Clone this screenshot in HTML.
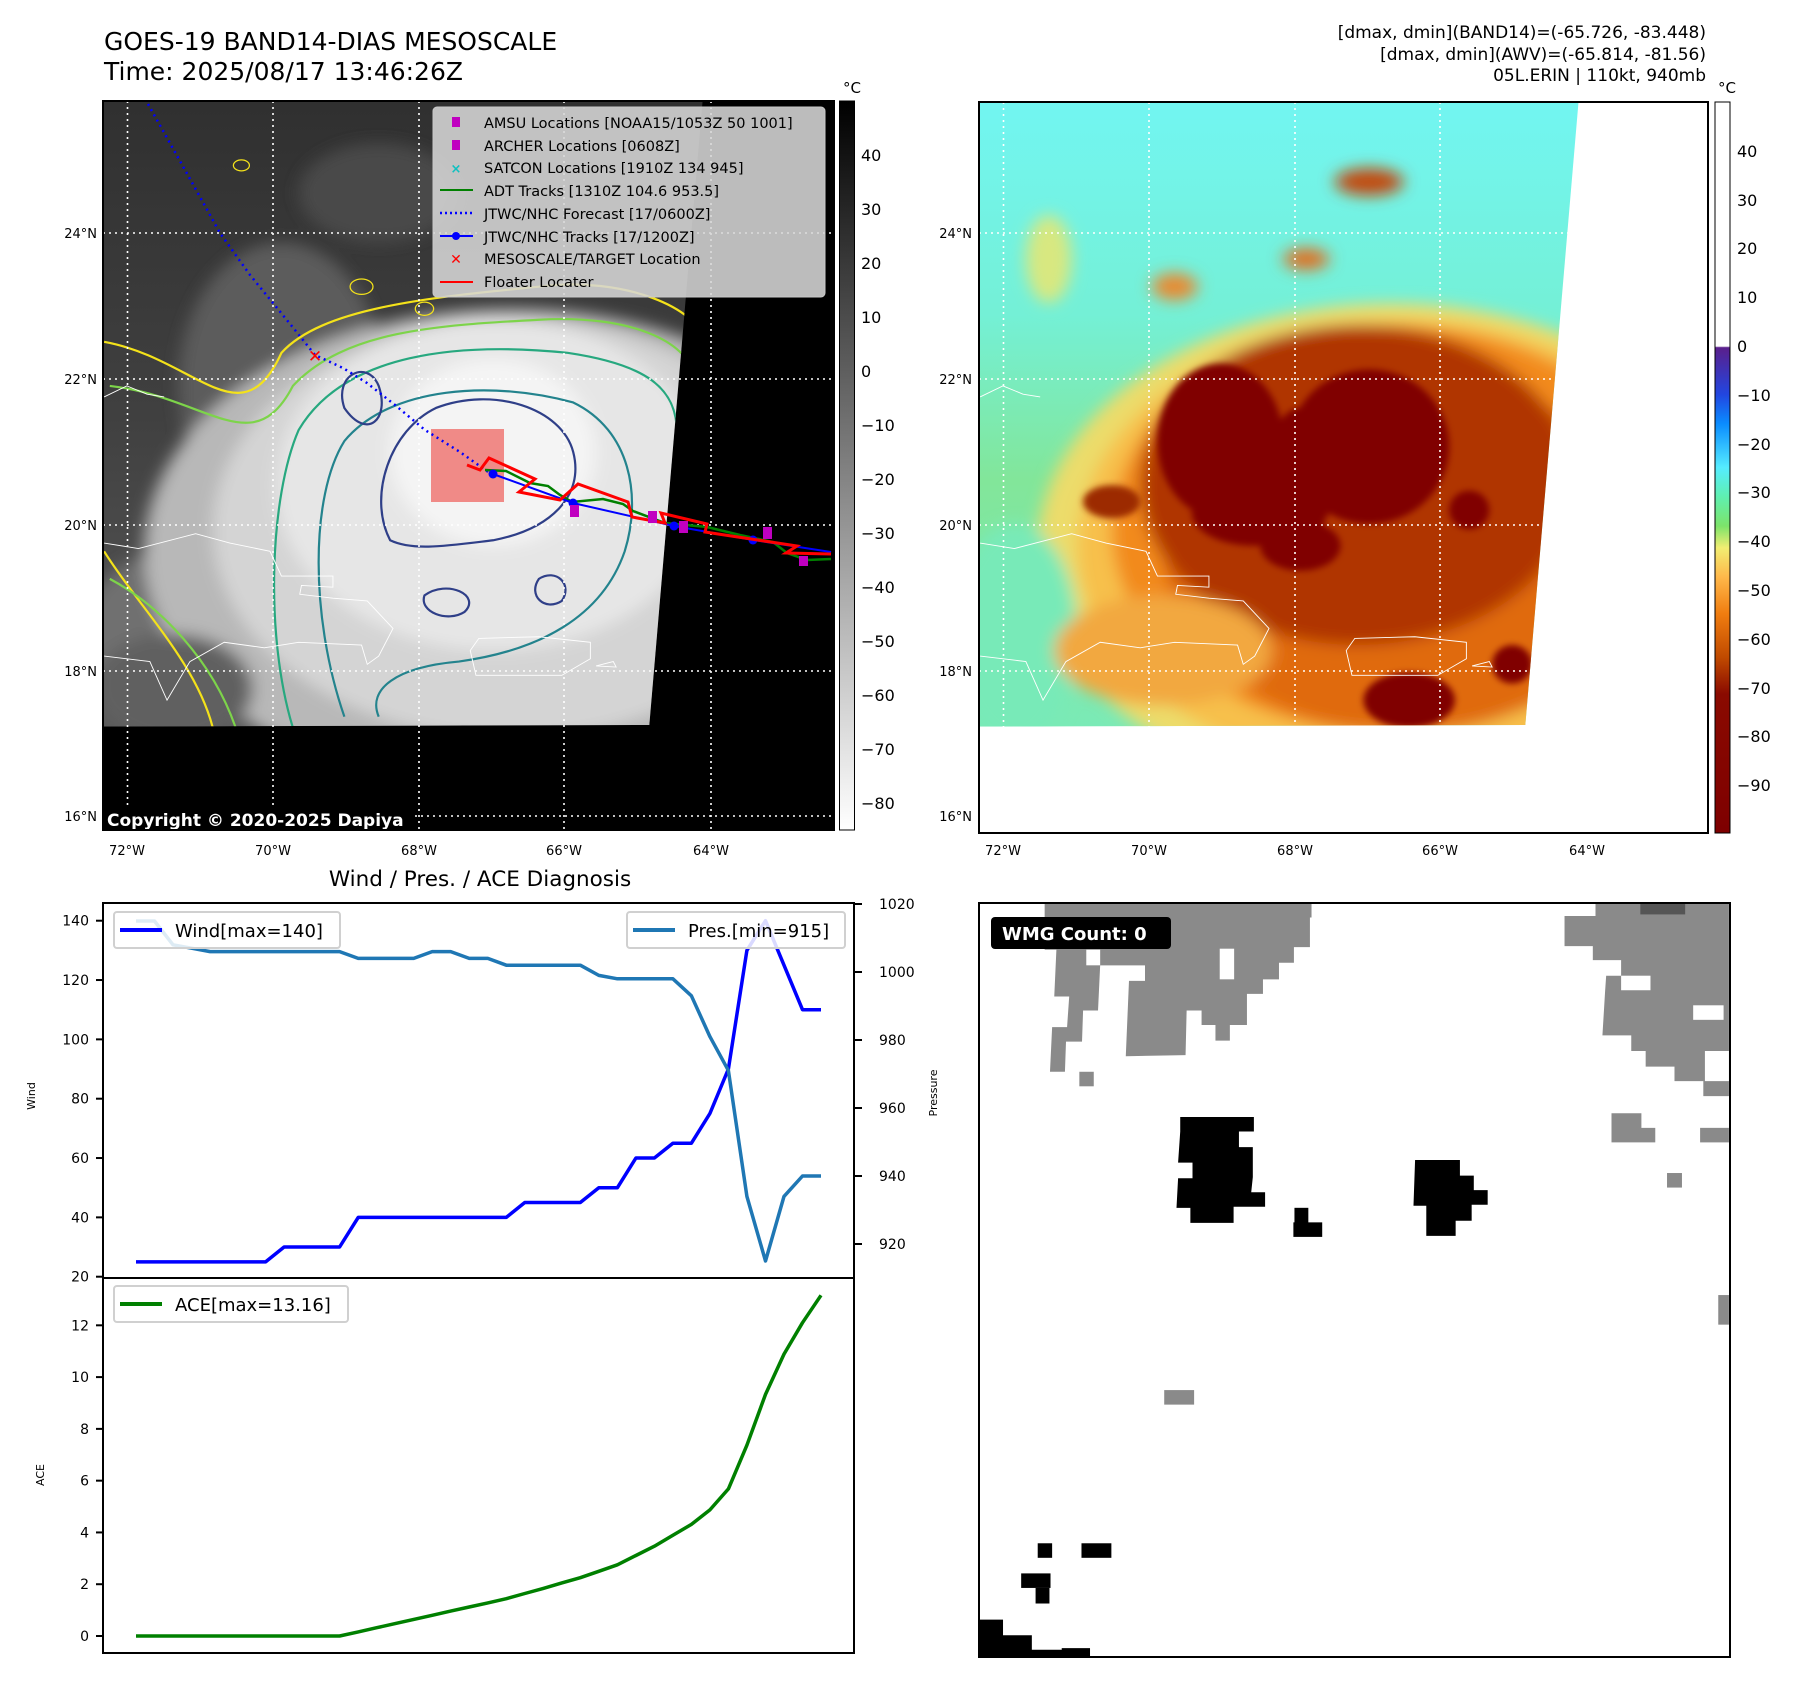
<!DOCTYPE html>
<html><head><meta charset="utf-8"><style>
html,body{margin:0;padding:0;background:#fff;}
svg{display:block;font-family:"DejaVu Sans","Liberation Sans",sans-serif;}
</style></head><body>
<svg id="fig" width="1797" height="1690" viewBox="0 0 1797 1690" xmlns="http://www.w3.org/2000/svg">
<defs>
  <filter id="blur8" x="-20%" y="-20%" width="140%" height="140%"><feGaussianBlur stdDeviation="14"/></filter>
  <filter id="blur4"><feGaussianBlur stdDeviation="6"/></filter>
  <clipPath id="clipL"><rect x="103" y="101" width="731" height="729"/></clipPath>
  <clipPath id="clipR"><rect x="979" y="102" width="729" height="731"/></clipPath>
  <clipPath id="dataZ"><polygon points="138,185 1186,185 1093,1315 138,1318"/></clipPath>
  <linearGradient id="cbGray" x1="0" y1="0" x2="0" y2="1">
    <stop offset="0" stop-color="#000"/><stop offset="1" stop-color="#fff"/>
  </linearGradient>
  <linearGradient id="cbColor" x1="0" y1="0" x2="0" y2="1">
    <stop offset="0" stop-color="#fff"/>
    <stop offset="0.334" stop-color="#fff"/>
    <stop offset="0.336" stop-color="#5a1f8c"/>
    <stop offset="0.40" stop-color="#2246e0"/>
    <stop offset="0.44" stop-color="#0a8cff"/>
    <stop offset="0.50" stop-color="#55ecff"/>
    <stop offset="0.54" stop-color="#5ff0b0"/>
    <stop offset="0.58" stop-color="#7ce46a"/>
    <stop offset="0.61" stop-color="#f2ee72"/>
    <stop offset="0.65" stop-color="#ffb84a"/>
    <stop offset="0.70" stop-color="#f07d10"/>
    <stop offset="0.76" stop-color="#c04a00"/>
    <stop offset="0.81" stop-color="#8a0a00"/>
    <stop offset="1" stop-color="#7e0000"/>
  </linearGradient>
  <linearGradient id="bgR" x1="0" y1="0" x2="0" y2="1">
    <stop offset="0" stop-color="#72f6f4"/><stop offset="0.35" stop-color="#74f0d6"/><stop offset="0.6" stop-color="#82e69a"/><stop offset="1" stop-color="#7aeab8"/>
  </linearGradient>
  <linearGradient id="bgL" x1="0" y1="0" x2="0" y2="1">
    <stop offset="0" stop-color="#2f2f2f"/><stop offset="0.5" stop-color="#404040"/><stop offset="1" stop-color="#5a5a5a"/>
  </linearGradient>
</defs>

<text x="104" y="50" font-size="25" fill="#000">GOES-19 BAND14-DIAS MESOSCALE</text>
<text x="104" y="80" font-size="25" fill="#000">Time: 2025/08/17 13:46:26Z</text>
<g font-size="17" text-anchor="end" fill="#000">
  <text x="1706" y="38">[dmax, dmin](BAND14)=(-65.726, -83.448)</text>
  <text x="1706" y="60">[dmax, dmin](AWV)=(-65.814, -81.56)</text>
  <text x="1706" y="81">05L.ERIN | 110kt, 940mb</text>
</g>

<g>
  <rect x="103" y="101" width="731" height="729" fill="#000"/>
  <g clip-path="url(#clipL)">
    <g transform="translate(24,0) scale(0.5721,0.5513)">
      <g clip-path="url(#dataZ)">
        <rect x="100" y="150" width="1200" height="1200" fill="url(#bgL)"/>
        <g filter="url(#blur8)">
          <ellipse cx="450" cy="700" rx="180" ry="260" fill="#5c5c5c"/>
          <ellipse cx="620" cy="350" rx="140" ry="90" fill="#4a4a4a"/>
          <ellipse cx="300" cy="1150" rx="200" ry="160" fill="#707070"/>
          <ellipse cx="850" cy="1000" rx="640" ry="440" fill="#b8b8b8"/>
          <ellipse cx="850" cy="960" rx="520" ry="380" fill="#d4d4d4"/>
          <ellipse cx="820" cy="880" rx="380" ry="300" fill="#e6e6e6"/>
          <ellipse cx="820" cy="820" rx="180" ry="170" fill="#f4f4f4"/>
          <ellipse cx="260" cy="1250" rx="140" ry="100" fill="#606060"/>
        </g>
        <g fill="none" stroke-width="2.2" vector-effect="non-scaling-stroke">
          <path d="M140,620 C300,650 380,800 450,640 C520,560 700,540 900,520 C1050,500 1180,560 1190,620 L1190,1320 M330,1320 C300,1200 200,1100 140,1000" stroke="#f4e21a" stroke-width="2.2" vector-effect="non-scaling-stroke"/>
          <path d="M150,700 C320,720 400,840 470,700 C560,600 720,590 900,580 C1060,570 1160,620 1170,680 L1150,1310 M370,1320 C330,1200 240,1100 150,1050" stroke="#7dd44a" stroke-width="2.2" vector-effect="non-scaling-stroke"/>
          <path d="M470,1320 C420,1150 430,900 480,780 C560,640 760,620 950,640 C1080,660 1150,700 1140,800 L1110,1300" stroke="#27a87f" stroke-width="2.2" vector-effect="non-scaling-stroke"/>
          <path d="M560,1300 C500,1120 500,900 560,800 C640,700 820,690 960,730 C1060,780 1080,900 1050,1000 C1010,1120 900,1180 760,1200 C650,1210 600,1250 620,1300" stroke="#23838d" stroke-width="2.2" vector-effect="non-scaling-stroke"/>
          <path d="M640,980 C600,900 640,780 720,740 C820,700 940,740 960,820 C980,900 920,960 820,980 C740,990 680,1000 640,980 Z" stroke="#2f3f88" stroke-width="2.2" vector-effect="non-scaling-stroke"/>
          <path d="M560,740 C540,680 600,650 620,700 C640,760 600,800 560,740 Z M700,1080 C740,1050 800,1080 770,1110 C740,1130 690,1110 700,1080 Z M900,1050 C930,1030 960,1060 940,1090 C910,1110 880,1080 900,1050 Z" stroke="#2f3f88" stroke-width="2.2" vector-effect="non-scaling-stroke"/>
          <ellipse cx="380" cy="300" rx="14" ry="10" stroke="#f4e21a"/>
          <ellipse cx="700" cy="560" rx="16" ry="12" stroke="#f4e21a"/>
          <ellipse cx="590" cy="520" rx="20" ry="14" stroke="#f4e21a"/>
        </g>
      </g>
      <g fill="none" stroke="#fff" stroke-width="1.6" vector-effect="non-scaling-stroke">
        <path d="M140,985 L200,995 L300,968 L360,985 L430,1000 L450,1045 L540,1045 L540,1065 L485,1062 L482,1078 L540,1085 L600,1090 L645,1140 L620,1190 L600,1205 L590,1170 L480,1165 L420,1175 L350,1165 L290,1200 L250,1270 L220,1200 L140,1190"/>
        <path d="M795,1158 L900,1155 L990,1165 L990,1195 L940,1225 L790,1225 L780,1180 Z"/>
        <path d="M1000,1208 L1030,1200 L1035,1210 Z"/>
        <path d="M140,720 L180,700 L215,715 L245,720"/>
      </g>
    </g>
    <g stroke="#fff" stroke-width="1.6" stroke-dasharray="2,4">
      <line x1="127.5" y1="101" x2="127.5" y2="830"/><line x1="273" y1="101" x2="273" y2="830"/><line x1="419" y1="101" x2="419" y2="830"/><line x1="564" y1="101" x2="564" y2="830"/><line x1="711" y1="101" x2="711" y2="830"/>
      <line x1="103" y1="233" x2="834" y2="233"/><line x1="103" y1="379" x2="834" y2="379"/><line x1="103" y1="525" x2="834" y2="525"/><line x1="103" y1="671" x2="834" y2="671"/><line x1="103" y1="816" x2="834" y2="816"/>
    </g>
    <rect x="431" y="429" width="73" height="73" fill="#f08a87"/>
    <polyline points="148,104 185,170 220,233 250,275 273,303 295,330 315,355 343,368 367,383 395,405 425,430 460,452 491,474" fill="none" stroke="#0000ff" stroke-width="2.5" stroke-dasharray="2,4"/>
    <polyline points="485,470 506,471 530,483 548,486 560,495 572,502 603,499 623,504 633,511 665,523 707,527 740,535 773,542 787,553 807,560 831,559" fill="none" stroke="#008000" stroke-width="2.5"/>
    <polyline points="493,474 573,503 674,526 753,540 831,552" fill="none" stroke="#0000ff" stroke-width="2"/>
    <g fill="#0000ff"><circle cx="493" cy="474" r="4.5"/><circle cx="573" cy="503" r="4.5"/><circle cx="674" cy="526" r="4.5"/><circle cx="753" cy="540" r="4.5"/></g>
    <polyline points="467,465 480,470 489,458 535,479 519,492 560,500 578,484 628,502 632,517 665,523 661,513 707,524 705,532 797,546 786,553 831,554" fill="none" stroke="#ff0000" stroke-width="3"/>
    <g fill="#c000c0"><rect x="570" y="505" width="9" height="12"/><rect x="648" y="511" width="9" height="12"/><rect x="679" y="521" width="9" height="12"/><rect x="763" y="527" width="9" height="12"/><rect x="799" y="556" width="9" height="10"/></g>
    <text x="315" y="362" font-size="17" font-weight="bold" fill="#ff0000" text-anchor="middle">✕</text>
    <g>
      <rect x="433" y="107" width="392" height="190" rx="4" fill="#d6d6d6" fill-opacity="0.88" stroke="#c8c8c8"/>
      <g font-size="14.5" fill="#000">
        <rect x="452" y="117" width="8" height="10" fill="#c000c0"/><text x="484" y="128">AMSU Locations [NOAA15/1053Z 50 1001]</text>
        <rect x="452" y="140" width="8" height="10" fill="#c000c0"/><text x="484" y="151">ARCHER Locations [0608Z]</text>
        <text x="456" y="173" fill="#10c0c0" font-size="13" font-weight="bold" text-anchor="middle">×</text><text x="484" y="173">SATCON Locations [1910Z 134 945]</text>
        <line x1="440" y1="190" x2="473" y2="190" stroke="#008000" stroke-width="2"/><text x="484" y="196">ADT Tracks [1310Z 104.6 953.5]</text>
        <line x1="440" y1="213" x2="473" y2="213" stroke="#0000ff" stroke-width="2.5" stroke-dasharray="2,3"/><text x="484" y="219">JTWC/NHC Forecast [17/0600Z]</text>
        <line x1="440" y1="236" x2="473" y2="236" stroke="#0000ff" stroke-width="2"/><circle cx="456" cy="236" r="4" fill="#0000ff"/><text x="484" y="242">JTWC/NHC Tracks [17/1200Z]</text>
        <text x="456" y="264" fill="#ff0000" font-size="14" font-weight="bold" text-anchor="middle">✕</text><text x="484" y="264">MESOSCALE/TARGET Location</text>
        <line x1="440" y1="282" x2="473" y2="282" stroke="#ff0000" stroke-width="2"/><text x="484" y="287">Floater Locater</text>
      </g>
    </g>
    <rect x="102" y="806" width="312" height="25" rx="3" fill="#000"/>
    <text x="107" y="826" font-size="17" font-weight="bold" fill="#fff">Copyright © 2020-2025 Dapiya</text>
  </g>
  <rect x="103" y="101" width="731" height="729" fill="none" stroke="#000" stroke-width="2"/>
</g>
<g font-size="13" fill="#000">
  <g text-anchor="end"><text x="97" y="238">24°N</text><text x="97" y="384">22°N</text><text x="97" y="530">20°N</text><text x="97" y="676">18°N</text><text x="97" y="821">16°N</text></g>
  <g text-anchor="middle"><text x="127" y="855">72°W</text><text x="273" y="855">70°W</text><text x="419" y="855">68°W</text><text x="564" y="855">66°W</text><text x="711" y="855">64°W</text></g>
</g>
<g>
  <rect x="839.5" y="101" width="15" height="729" fill="url(#cbGray)" stroke="#000" stroke-width="1"/>
  <text x="852" y="93" font-size="15" text-anchor="middle">°C</text>
  <g font-size="16" fill="#000">
    <text x="861" y="161">40</text><text x="861" y="215">30</text><text x="861" y="269">20</text><text x="861" y="323">10</text><text x="861" y="377">0</text><text x="861" y="431">−10</text><text x="861" y="485">−20</text><text x="861" y="539">−30</text><text x="861" y="593">−40</text><text x="861" y="647">−50</text><text x="861" y="701">−60</text><text x="861" y="755">−70</text><text x="861" y="809">−80</text>
  </g>
</g>

<g>
  <rect x="979" y="102" width="729" height="731" fill="#fff"/>
  <g clip-path="url(#clipR)">
    <g transform="translate(900,0) scale(0.5721,0.5513)">
      <g clip-path="url(#dataZ)">
        <rect x="100" y="150" width="1200" height="1200" fill="url(#bgR)"/>
        <g filter="url(#blur8)">
          <ellipse cx="260" cy="470" rx="40" ry="80" fill="#d8e880"/>
          <ellipse cx="820" cy="330" rx="60" ry="25" fill="#c24a10"/>
          <ellipse cx="710" cy="470" rx="40" ry="20" fill="#e07020"/>
          <ellipse cx="480" cy="520" rx="40" ry="25" fill="#e88a30"/>
          <ellipse cx="860" cy="1000" rx="620" ry="450" fill="#ecdc6a"/>
          <ellipse cx="870" cy="990" rx="560" ry="410" fill="#f7c04c"/>
          <ellipse cx="860" cy="960" rx="490" ry="370" fill="#f28a1c"/>
          <ellipse cx="880" cy="1000" rx="420" ry="330" fill="#e06a0c"/>
          <ellipse cx="800" cy="880" rx="380" ry="290" fill="#b03404"/>
          <ellipse cx="200" cy="1150" rx="110" ry="200" fill="#78eab8"/>
          <ellipse cx="460" cy="1180" rx="190" ry="100" fill="#f2a840"/>
        </g>
        <g filter="url(#blur4)" fill="#800000">
          <circle cx="820" cy="810" r="140"/>
          <ellipse cx="560" cy="800" rx="110" ry="140"/>
          <ellipse cx="620" cy="930" rx="110" ry="60"/>
          <ellipse cx="700" cy="990" rx="70" ry="45"/>
          <ellipse cx="700" cy="860" rx="60" ry="120"/>
          <circle cx="995" cy="925" r="35"/>
          <ellipse cx="890" cy="1270" rx="80" ry="50"/>
          <circle cx="1070" cy="1205" r="35"/>
          <ellipse cx="370" cy="910" rx="50" ry="30" fill="#9c2a02"/>
        </g>
      </g>
      <g fill="none" stroke="#fff" stroke-width="1.6" vector-effect="non-scaling-stroke">
        <path d="M140,985 L200,995 L300,968 L360,985 L430,1000 L450,1045 L540,1045 L540,1065 L485,1062 L482,1078 L540,1085 L600,1090 L645,1140 L620,1190 L600,1205 L590,1170 L480,1165 L420,1175 L350,1165 L290,1200 L250,1270 L220,1200 L140,1190"/>
        <path d="M795,1158 L900,1155 L990,1165 L990,1195 L940,1225 L790,1225 L780,1180 Z"/>
        <path d="M1000,1208 L1030,1200 L1035,1210 Z"/>
        <path d="M140,720 L180,700 L215,715 L245,720"/>
      </g>
    </g>
    <g stroke="#fff" stroke-width="1.6" stroke-dasharray="2,4">
      <line x1="1003.5" y1="102" x2="1003.5" y2="833"/><line x1="1149" y1="102" x2="1149" y2="833"/><line x1="1295" y1="102" x2="1295" y2="833"/><line x1="1440" y1="102" x2="1440" y2="833"/><line x1="1587" y1="102" x2="1587" y2="833"/>
      <line x1="979" y1="233" x2="1708" y2="233"/><line x1="979" y1="379" x2="1708" y2="379"/><line x1="979" y1="525" x2="1708" y2="525"/><line x1="979" y1="671" x2="1708" y2="671"/><line x1="979" y1="816" x2="1708" y2="816"/>
    </g>
  </g>
  <rect x="979" y="102" width="729" height="731" fill="none" stroke="#000" stroke-width="2"/>
</g>
<g font-size="13" fill="#000">
  <g text-anchor="end"><text x="972" y="238">24°N</text><text x="972" y="384">22°N</text><text x="972" y="530">20°N</text><text x="972" y="676">18°N</text><text x="972" y="821">16°N</text></g>
  <g text-anchor="middle"><text x="1003" y="855">72°W</text><text x="1149" y="855">70°W</text><text x="1295" y="855">68°W</text><text x="1440" y="855">66°W</text><text x="1587" y="855">64°W</text></g>
</g>
<g>
  <rect x="1715" y="102" width="15" height="731" fill="url(#cbColor)" stroke="#000" stroke-width="1"/>
  <text x="1727" y="93" font-size="15" text-anchor="middle">°C</text>
  <g font-size="16" fill="#000">
    <text x="1737" y="157">40</text><text x="1737" y="206">30</text><text x="1737" y="254">20</text><text x="1737" y="303">10</text><text x="1737" y="352">0</text><text x="1737" y="401">−10</text><text x="1737" y="450">−20</text><text x="1737" y="498">−30</text><text x="1737" y="547">−40</text><text x="1737" y="596">−50</text><text x="1737" y="645">−60</text><text x="1737" y="694">−70</text><text x="1737" y="742">−80</text><text x="1737" y="791">−90</text>
  </g>
</g>

<g>
  <rect x="979" y="903" width="751" height="754" fill="#fff"/>
  <svg x="979" y="903" width="751" height="754" viewBox="35 45 1407 1452" preserveAspectRatio="none">
    <g fill="#8a8a8a">
      <polygon points="158,45 658,45 658,73 655,73 655,130 625,130 625,160 597,160 597,192 567,192 567,220 537,220 537,280 505,280 505,310 478,310 478,280 452,280 452,252 424,252 422,338 310,340 316,195 346,195 346,165 262,165 258,252 230,252 228,312 198,312 196,370 168,370 172,284 200,284 204,225 176,225 180,135 158,135"/>
      <rect x="223" y="370" width="27" height="28"/>
      <polygon points="1190,45 1440,45 1440,417 1392,417 1392,388 1338,388 1338,360 1284,360 1284,330 1257,330 1257,300 1203,300 1208,215 1210,185 1238,185 1238,155 1185,155 1185,128 1132,128 1132,70 1190,70"/>
      <polygon points="1220,450 1276,450 1276,478 1302,478 1302,506 1220,506"/>
      <rect x="1386" y="478" width="54" height="28"/>
      <rect x="1324" y="565" width="28" height="28"/>
      <rect x="1420" y="800" width="20" height="57"/>
      <rect x="382" y="983" width="56" height="28"/>
    </g>
    <g fill="#fff">
      <rect x="236" y="135" width="26" height="30"/><rect x="486" y="133" width="27" height="59"/>
      <rect x="1238" y="185" width="55" height="28"/><rect x="1373" y="242" width="57" height="28"/><rect x="1395" y="330" width="45" height="58"/>
    </g>
    <rect x="1274" y="45" width="84" height="22" fill="#555"/>
    <g fill="#000">
      <polygon points="412,457 550,457 550,485 522,485 522,515 548,515 548,573 545,602 571,602 571,630 512,630 512,661 431,661 431,632 405,632 408,575 435,575 435,545 408,545 412,485"/>
      <rect x="626" y="632" width="26" height="30"/><rect x="624" y="660" width="54" height="28"/>
      <polygon points="852,540 936,540 936,570 962,570 962,598 988,598 988,626 958,626 958,657 928,657 928,686 873,686 873,628 849,628"/>
      <rect x="145" y="1278" width="27" height="28"/><rect x="227" y="1278" width="56" height="28"/>
      <rect x="114" y="1336" width="55" height="28"/><rect x="141" y="1364" width="26" height="30"/>
      <polygon points="35,1425 80,1425 80,1455 134,1455 134,1483 190,1483 190,1480 243,1480 243,1497 35,1497"/>
    </g>
  </svg>
  <rect x="979" y="903" width="751" height="754" fill="none" stroke="#000" stroke-width="2"/>
  <rect x="991" y="917" width="180" height="32" rx="4" fill="#000"/>
  <text x="1002" y="940" font-size="18" font-weight="bold" fill="#fff">WMG Count: 0</text>
</g>

<text x="480" y="886" font-size="21.5" text-anchor="middle">Wind / Pres. / ACE Diagnosis</text>
<g id="diag"></g>
</svg>
<script>
const windValues = [25,25,25,25,25,25,25,25,30,30,30,30,40,40,40,40,40,40,40,40,40,45,45,45,45,50,50,60,60,65,65,75,90,130,140,125,110,110];
const presValues = [1015,1015,1008,1007,1006,1006,1006,1006,1006,1006,1006,1006,1004,1004,1004,1004,1006,1006,1004,1004,1002,1002,1002,1002,1002,999,998,998,998,998,993,981,971,934,915,934,940,940];
const aceValues = [0,0,0,0,0,0,0,0,0,0,0,0,0.16,0.32,0.48,0.64,0.80,0.96,1.12,1.28,1.44,1.64,1.84,2.05,2.25,2.5,2.75,3.11,3.47,3.89,4.31,4.87,5.68,7.37,9.33,10.89,12.1,13.16];
const windTicks = [20,40,60,80,100,120,140];
const presTicks = [920,940,960,980,1000,1020];
const aceTicks = [0,2,4,6,8,10,12];

const NS = 'http://www.w3.org/2000/svg';
const g = document.getElementById('diag');
const L = 103, R = 854, T1 = 903, B1 = 1278, B2 = 1653;
const n = windValues.length;
const xAt = i => 136 + i * (821 - 136) / (n - 1);
const yWind = v => 920.7 + (140 - v) * (1276.7 - 920.7) / 120;
const yPres = p => 904 + (1020 - p) * 3.4;
const yAce = a => 1636 - a * 25.89;

function mk(tag, attrs, parent) {
  const e = document.createElementNS(NS, tag);
  for (const k in attrs) e.setAttribute(k, attrs[k]);
  (parent || g).appendChild(e);
  return e;
}
function line(vals, yf, color, name) {
  const pts = vals.map((v, i) => xAt(i).toFixed(1) + ',' + yf(v).toFixed(1)).join(' ');
  const p = mk('polyline', {points: pts, fill: 'none', stroke: color, 'stroke-width': 3.5, 'stroke-linejoin': 'round'});
  
  
}
mk('rect', {x: L, y: T1, width: R - L, height: B2 - T1, fill: '#fff'});
line(windValues, yWind, '#0000ff', 'wind-line');
line(presValues, yPres, '#1f77b4', 'pressure-line');
line(aceValues, yAce, '#008000', 'ace-line');
const f1 = mk('rect', {x: L, y: T1, width: R - L, height: B1 - T1, fill: 'none', stroke: '#000', 'stroke-width': 2});


const f2 = mk('rect', {x: L, y: B1, width: R - L, height: B2 - B1, fill: 'none', stroke: '#000', 'stroke-width': 2});


function tick(x1, x2, y, label, anchor, tx, name) {
  mk('line', {x1: x1, x2: x2, y1: y, y2: y, stroke: '#000', 'stroke-width': 2});
  const t = mk('text', {x: tx, y: y + 5, 'font-size': 14, 'text-anchor': anchor});
  t.textContent = label;
  
  
}
windTicks.forEach(v => tick(L - 7, L, yWind(v), v, 'end', L - 14, 'wind-tick-label'));
presTicks.forEach(v => tick(R, R + 8, yPres(v), v, 'start', R + 25, 'pressure-tick-label'));
aceTicks.forEach(v => tick(L - 7, L, yAce(v), v, 'end', L - 14, 'ace-tick-label'));
function rlabel(x, y, txt, name) {
  const t = mk('text', {x: x, y: y, 'font-size': 11, 'text-anchor': 'middle', transform: 'rotate(-90 ' + x + ' ' + y + ')'});
  t.textContent = txt;
  
  
}
rlabel(35, 1096, 'Wind', 'wind-axis-title');
rlabel(937, 1093, 'Pressure', 'pressure-axis-title');
rlabel(44, 1475, 'ACE', 'ace-axis-title');
function legend(x, y, w, color, txt, name) {
  const grp = mk('g', {});
  
  
  mk('rect', {x: x, y: y, width: w, height: 36, rx: 3, fill: '#fff', 'fill-opacity': 0.85, stroke: '#d0d0d0', 'stroke-width': 2}, grp);
  mk('line', {x1: x + 6, x2: x + 48, y1: y + 18, y2: y + 18, stroke: color, 'stroke-width': 4}, grp);
  const t = mk('text', {x: x + 61, y: y + 25, 'font-size': 18}, grp);
  t.textContent = txt;
}
legend(114, 912, 226, '#0000ff', 'Wind[max=140]', 'wind-legend');
legend(627, 912, 218, '#1f77b4', 'Pres.[min=915]', 'pressure-legend');
legend(114, 1286, 234, '#008000', 'ACE[max=13.16]', 'ace-legend');
</script>
</body></html>
